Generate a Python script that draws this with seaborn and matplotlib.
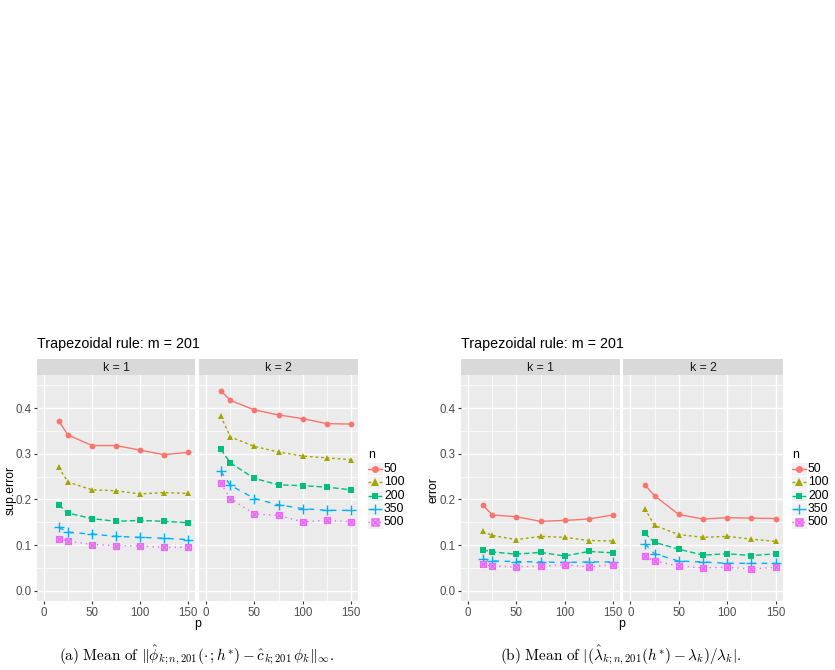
import numpy as np
import pandas as pd
import seaborn as sns
import matplotlib.pyplot as plt
from matplotlib.path import Path
from matplotlib.patches import Rectangle

sns.set_theme(style="darkgrid")
plt.rcParams['font.family'] = ['Liberation Sans', 'DejaVu Sans']
plt.rcParams['mathtext.fontset'] = 'cm'

# data
p_vals = [15, 25, 50, 75, 100, 125, 150]
n_levels = ['50', '100', '200', '350', '500']

# (a) sup.error
sup_k1 = {
    '50':  [0.372, 0.341, 0.318, 0.318, 0.308, 0.298, 0.303],
    '100': [0.270, 0.238, 0.221, 0.219, 0.212, 0.215, 0.213],
    '200': [0.188, 0.170, 0.158, 0.152, 0.154, 0.152, 0.149],
    '350': [0.139, 0.128, 0.124, 0.119, 0.117, 0.115, 0.112],
    '500': [0.114, 0.109, 0.101, 0.099, 0.098, 0.095, 0.095],
}
sup_k2 = {
    '50':  [0.438, 0.417, 0.396, 0.385, 0.377, 0.366, 0.365],
    '100': [0.383, 0.337, 0.316, 0.304, 0.295, 0.291, 0.287],
    '200': [0.310, 0.280, 0.246, 0.232, 0.230, 0.227, 0.221],
    '350': [0.262, 0.231, 0.202, 0.188, 0.180, 0.176, 0.176],
    '500': [0.235, 0.202, 0.168, 0.165, 0.151, 0.154, 0.151],
}
# (b) relative eigenvalue error
err_k1 = {
    '50':  [0.188, 0.166, 0.162, 0.152, 0.154, 0.157, 0.166],
    '100': [0.130, 0.121, 0.112, 0.119, 0.117, 0.110, 0.109],
    '200': [0.090, 0.085, 0.080, 0.084, 0.076, 0.086, 0.083],
    '350': [0.070, 0.065, 0.064, 0.063, 0.062, 0.063, 0.063],
    '500': [0.058, 0.054, 0.052, 0.054, 0.057, 0.052, 0.057],
}
err_k2 = {
    '50':  [0.232, 0.208, 0.167, 0.157, 0.160, 0.159, 0.158],
    '100': [0.180, 0.143, 0.123, 0.117, 0.119, 0.113, 0.108],
    '200': [0.126, 0.106, 0.091, 0.078, 0.081, 0.077, 0.081],
    '350': [0.103, 0.081, 0.065, 0.063, 0.060, 0.060, 0.060],
    '500': [0.076, 0.065, 0.054, 0.050, 0.051, 0.048, 0.051],
}

# ggplot-ish styling
colors = ['#F8766D', '#A3A500', '#00BF7D', '#00B0F6', '#E76BF3']
lstyles = ['-', (0, (2, 2)), (0, (4, 2)), (0, (4, 4)), (0, (1, 3))]
boxx = Path([(-1, -1), (1, -1), (1, 1), (-1, 1), (-1, -1),
             (-1, -1), (1, 1), (-1, 1), (1, -1)],
            [Path.MOVETO, Path.LINETO, Path.LINETO, Path.LINETO, Path.CLOSEPOLY,
             Path.MOVETO, Path.LINETO, Path.MOVETO, Path.LINETO])
markers = ['o', '^', 's', '+', boxx]
msizes = [4.2, 4.5, 4.0, 6.5, 4.2]

W, H = 835, 670
fig = plt.figure(figsize=(W / 100, H / 100), dpi=100)


def px_axes(x0, x1, y0, y1):
    return fig.add_axes([x0 / W, 1 - y1 / H, (x1 - x0) / W, (y1 - y0) / H])


def draw_facet(ax, series, strip_label, first):
    for i, n in enumerate(n_levels):
        df = pd.DataFrame({'p': p_vals, 'v': series[n]})
        face = '#F3B5F7' if i == 4 else colors[i]
        sns.lineplot(data=df, x='p', y='v', ax=ax, color=colors[i],
                     linestyle=lstyles[i], linewidth=1.0, marker=markers[i],
                     markersize=msizes[i], markerfacecolor=face,
                     markeredgecolor=colors[i], markeredgewidth=1.0 if i >= 3 else 0)
    ax.set_facecolor('#EBEBEB')
    ax.set_xlim(-7.5, 157.5)
    ax.set_ylim(-0.0225, 0.4725)
    ax.set_xticks([0, 50, 100, 150])
    ax.set_xticks([25, 75, 125], minor=True)
    ax.set_yticks([0.0, 0.1, 0.2, 0.3, 0.4])
    ax.set_yticks([0.05, 0.15, 0.25, 0.35, 0.45], minor=True)
    ax.grid(True, which='major', color='white', linewidth=1.0)
    ax.grid(True, which='minor', color='white', linewidth=0.5)
    ax.set_axisbelow(True)
    for s in ax.spines.values():
        s.set_visible(False)
    ax.tick_params(axis='both', which='major', length=2.5, width=0.8, color='#333333',
                   labelsize=8.3, labelcolor='#4D4D4D', pad=1.5, bottom=True, left=first)
    ax.tick_params(axis='both', which='minor', length=0)
    ax.set_xlabel('')
    ax.set_ylabel('')
    if first:
        ax.set_yticklabels(['0.0', '0.1', '0.2', '0.3', '0.4'])
    else:
        ax.set_yticklabels([])
    ax.set_xticklabels(['0', '50', '100', '150'])
    # strip on top
    bb = ax.get_position()
    sax = fig.add_axes([bb.x0, bb.y1, bb.width, 16 / H])
    sax.set_facecolor('#D9D9D9')
    sax.set_xticks([])
    sax.set_yticks([])
    for s in sax.spines.values():
        s.set_visible(False)
    sax.grid(False)
    sax.text(0.5, 0.45, strip_label, ha='center', va='center', fontsize=8.8,
             color='#1A1A1A', transform=sax.transAxes)


def draw_legend(x0, y_title):
    lax = px_axes(x0, x0 + 45, y_title - 8, y_title + 80)
    lax.set_xlim(0, 45)
    lax.set_ylim(y_title + 80, y_title - 8)
    lax.axis('off')
    lax.text(1, y_title, 'n', fontsize=8.8, va='center', ha='left', color='black')
    for i, n in enumerate(n_levels):
        yc = y_title + 14 + 13.3 * i
        lax.add_patch(Rectangle((0, yc - 6.65), 16, 13.3, facecolor='#F2F2F2',
                                edgecolor='white', linewidth=0.6))
        face = '#F3B5F7' if i == 4 else colors[i]
        lax.plot([1, 15], [yc, yc], color=colors[i], linestyle=lstyles[i], linewidth=1.0)
        lax.plot([8], [yc], color=colors[i], marker=markers[i], markersize=msizes[i] + 0.8,
                 markerfacecolor=face, markeredgecolor=colors[i],
                 markeredgewidth=1.0 if i >= 3 else 0, linestyle='none')
        lax.text(17, yc, n, fontsize=8.7, va='center', ha='left', color='black')


panels = [
    dict(x=[(37, 195), (199, 358)], data=[sup_k1, sup_k2], ylab='sup.error', ylx=11,
         legx=367, cap=r'$\mathrm{(a)\ Mean\ of\ }\|\hat{\phi}_{k;n,201}(\cdot\,;h^{*})-\hat{c}_{k;201}\,\phi_k\|_{\infty}.$',
         capx=197),
    dict(x=[(461, 620), (623, 783)], data=[err_k1, err_k2], ylab='error', ylx=433,
         legx=791, cap=r'$\mathrm{(b)\ Mean\ of\ }|(\hat{\lambda}_{k;n,201}(h^{*})-\lambda_k)/\lambda_k|.$',
         capx=621),
]

for pn in panels:
    for j, ((x0, x1), series) in enumerate(zip(pn['x'], pn['data'])):
        ax = px_axes(x0, x1, 375, 601)
        draw_facet(ax, series, 'k = %d' % (j + 1), j == 0)
    xl, xr = pn['x'][0][0], pn['x'][1][1]
    fig.text(xl / W, 1 - 344 / H, 'Trapezoidal rule: m = 201', fontsize=10.3,
             ha='left', va='center', color='black')
    fig.text(pn['ylx'] / W, 1 - 490 / H, pn['ylab'], fontsize=8.8, rotation=90,
             ha='center', va='center', color='black')
    fig.text((xl + xr) / 2 / W, 1 - 624 / H, 'p', fontsize=8.8, ha='center',
             va='center', color='black')
    draw_legend(pn['legx'], 455)
    fig.text(pn['capx'] / W, 1 - 655 / H, pn['cap'], fontsize=11, ha='center',
             va='center', color='black')

fig.savefig('out.png', dpi=100, facecolor='white')
